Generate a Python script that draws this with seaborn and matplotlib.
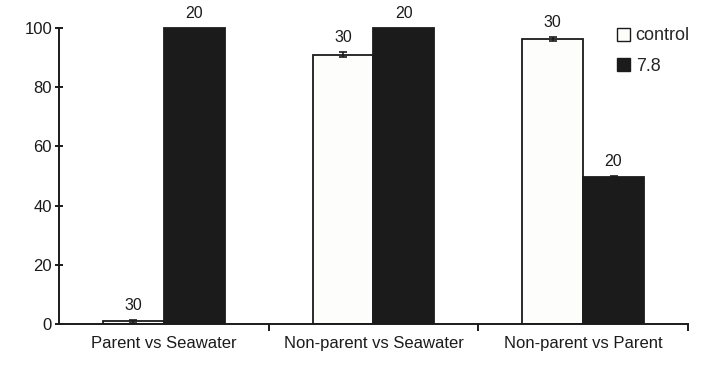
import matplotlib
matplotlib.use("Agg")
import matplotlib.pyplot as plt
import seaborn as sns
import pandas as pd
from matplotlib.patches import Patch

# Comparisons and treatment groups
categories = ["Parent vs Seawater", "Non-parent vs Seawater", "Non-parent vs Parent"]
treatments = ["control", "7.8"]

# Percent values per treatment
control_vals = [1.0, 91.0, 96.2]
low_ph_vals = [100.0, 100.0, 49.7]

# Standard errors
control_err = [0.5, 1.0, 0.8]
low_ph_err = [0.0, 0.0, 0.3]

# Sample sizes printed above bars
control_n = [30, 30, 30]
low_ph_n = [20, 20, 20]

df = pd.DataFrame({
    "comparison": categories * 2,
    "treatment": [treatments[0]] * 3 + [treatments[1]] * 3,
    "value": control_vals + low_ph_vals,
    "err": control_err + low_ph_err,
    "n": control_n + low_ph_n,
})

sns.set_theme(style="ticks")
plt.rcParams["font.family"] = ["Liberation Sans", "DejaVu Sans"]

ink = "#1b1b1b"
fig = plt.figure(figsize=(7.02, 3.68), dpi=100)
ax = fig.add_axes([0.084, 0.1196, 0.896, 0.853])

palette = {"control": "#fdfdfb", "7.8": ink}
sns.barplot(data=df, x="comparison", y="value", hue="treatment",
            palette=palette, order=categories, hue_order=treatments,
            errorbar=None, width=0.58, edgecolor=ink, linewidth=1.3,
            saturation=1, legend=False, ax=ax)

# Error bars and sample-size labels, taken from the drawn bars
patches = [p for p in ax.patches if p.get_height() > 0 or p.get_width() > 0]
for j, t in enumerate(treatments):
    sub = df[df.treatment == t]
    for i, (_, row) in enumerate(sub.iterrows()):
        p = patches[j * len(categories) + i]
        cx = p.get_x() + p.get_width() / 2
        top = row["value"]
        if row["err"] > 0:
            ax.errorbar(cx, top, yerr=row["err"], fmt="none", ecolor=ink,
                        elinewidth=1.2, capsize=3, capthick=1.2, zorder=5)
        ax.text(cx, top + row["err"] + 2.3, str(row["n"]), ha="center",
                va="bottom", fontsize=11.5, color=ink)

ax.set_xlim(-0.5, 2.5)
ax.set_ylim(0, 106)
ax.set_yticks([0, 20, 40, 60, 80, 100])
for side in ("left", "bottom"):
    ax.spines[side].set_linewidth(1.4)
    ax.spines[side].set_color(ink)
ax.spines["left"].set_bounds(0, 100)
sns.despine(ax=ax)

ax.set_xticks([0, 1, 2])
ax.set_xticklabels(categories, fontsize=12, color=ink)
ax.set_xticks([0.5, 1.5, 2.5], minor=True)
ax.tick_params(axis="x", which="major", length=0, pad=9)
ax.tick_params(axis="x", which="minor", length=5, width=1.4, color=ink, direction="out")
ax.tick_params(axis="y", length=6, width=1.4, color=ink, direction="inout", pad=2,
               labelsize=12, labelcolor=ink)
ax.set_xlabel("")
ax.set_ylabel("")

handles = [Patch(facecolor=palette[t], edgecolor=ink, linewidth=1.0, label=t)
           for t in treatments]
ax.legend(handles=handles, loc="upper right", bbox_to_anchor=(1.023, 0.985),
          frameon=False, fontsize=13, handlelength=0.75, handleheight=0.75,
          handletextpad=0.3, labelspacing=0.75, borderpad=0.2)

fig.savefig("out.png", dpi=100, facecolor="white")
